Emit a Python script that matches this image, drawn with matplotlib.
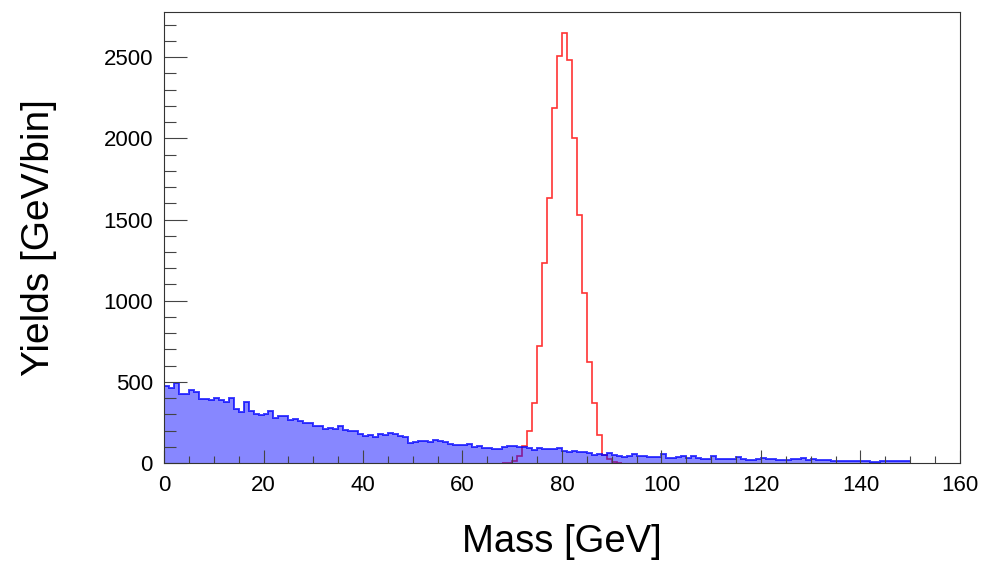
import numpy as np
import matplotlib
matplotlib.use("Agg")
import matplotlib.pyplot as plt
from matplotlib.ticker import MultipleLocator

plt.rcParams['font.family'] = ['Liberation Sans', 'DejaVu Sans']

# background: 1 GeV bins from 0 to 150
bkg_edges = np.arange(0, 151, 1)
bkg_counts = [
    476, 460, 493, 427, 427, 448, 440, 394, 394, 386,
    400, 388, 374, 400, 333, 316, 374, 323, 302, 298,
    302, 323, 277, 292, 292, 263, 269, 259, 244, 249,
    226, 230, 210, 214, 208, 230, 205, 199, 195, 177,
    168, 173, 158, 179, 175, 185, 179, 166, 158, 125,
    130, 136, 138, 130, 144, 136, 130, 115, 111, 113,
    109, 115, 101, 105, 91, 95, 88, 86, 97, 103,
    103, 101, 97, 91, 80, 90, 88, 88, 86, 93,
    76, 68, 76, 68, 68, 62, 52, 54, 52, 62,
    47, 43, 39, 41, 54, 45, 43, 39, 37, 35,
    54, 33, 31, 37, 41, 33, 43, 29, 27, 25,
    45, 25, 25, 27, 27, 37, 25, 21, 17, 25,
    33, 25, 23, 17, 17, 21, 25, 25, 29, 21,
    27, 21, 17, 17, 15, 11, 11, 13, 13, 13,
    11, 13, 8, 4, 13, 13, 13, 13, 13, 13,
]

# signal peak: 1 GeV bins from 68 to 92
sig_edges = np.arange(68, 93, 1)
sig_counts = [
    0, 2, 12, 43, 102, 197, 367, 722, 1233, 1630,
    2190, 2508, 2646, 2480, 2003, 1527, 1045, 620, 367, 172,
    50, 27, 6, 0,
]

fig = plt.figure(figsize=(9.91, 5.61), dpi=100)
ax = fig.add_axes([0.1655, 0.1747, 0.8032, 0.8039])

ax.stairs(sig_counts, sig_edges, color='red', lw=1.2, alpha=0.8, baseline=0)
ax.stairs(bkg_counts, bkg_edges, fill=True, color='blue', alpha=0.47, lw=0)
ax.stairs(bkg_counts, bkg_edges, color='blue', alpha=0.75, lw=1.4, baseline=None)

ax.set_xlim(0, 160)
ax.set_ylim(0, max(sig_counts) * 1.05)

ax.xaxis.set_major_locator(MultipleLocator(20))
ax.xaxis.set_minor_locator(MultipleLocator(5))
ax.yaxis.set_major_locator(MultipleLocator(500))
ax.yaxis.set_minor_locator(MultipleLocator(100))

ax.tick_params(axis='x', which='major', direction='in', length=9.4, width=0.8,
               labelsize=16, pad=8.5, color='#444444')
ax.tick_params(axis='x', which='minor', direction='in', length=5, width=0.8, color='#444444')
ax.tick_params(axis='y', which='major', direction='in', length=16.5, width=0.8,
               labelsize=16, pad=8, color='#444444')
ax.tick_params(axis='y', which='minor', direction='in', length=8.6, width=0.8, color='#444444')

for s in ax.spines.values():
    s.set_linewidth(0.8)
    s.set_color('#333333')

ax.set_xlabel('Mass [GeV]', fontsize=27.5, labelpad=20)
ax.set_ylabel('Yields [GeV/bin]', fontsize=28, labelpad=33)

fig.savefig('out.png', dpi=100)
